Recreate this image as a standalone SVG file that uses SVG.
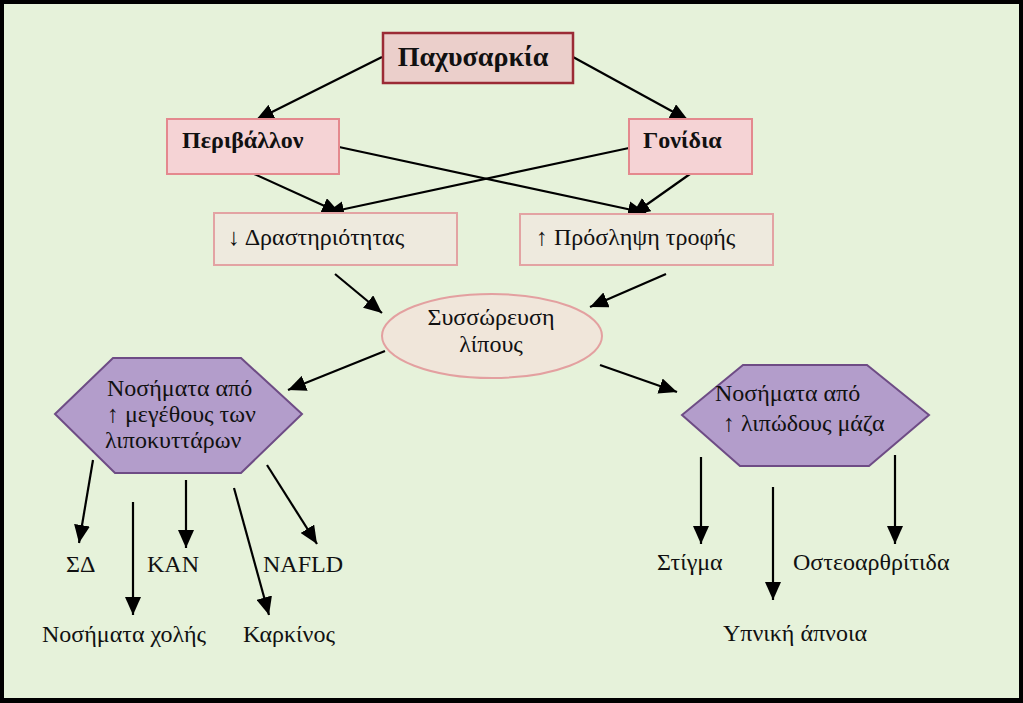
<svg xmlns="http://www.w3.org/2000/svg" width="1023" height="703" viewBox="0 0 1023 703">
<style>
.t{font-family:"Liberation Serif","Times New Roman",serif;fill:#111;font-size:24px}
.b{font-weight:bold}
.c{fill:none;stroke:#000;stroke-width:2.2;marker-end:url(#ah)}
.bx{fill:#EEEADE;stroke:#E3A3A3;stroke-width:2}
.pk{fill:#F5D3D5;stroke:#E4898E;stroke-width:2}
.hx{fill:#B39DCB;stroke:#6E4C85;stroke-width:2}
</style>
<defs>
<marker id="ah" markerUnits="userSpaceOnUse" markerWidth="20" markerHeight="16" viewBox="0 0 20 16" refX="18" refY="8" orient="auto">
<path d="M0,0 L18,8 L0,16 Z" fill="#000"/>
</marker>
</defs>
<rect x="0" y="0" width="1023" height="703" fill="#000"/>
<rect x="4" y="4" width="1015" height="694" fill="#E6F2DA"/>
<g id="connectors">
<line class="c" x1="382" y1="57" x2="256" y2="120"/>
<line class="c" x1="573" y1="57" x2="688" y2="120"/>
<line class="c" x1="339" y1="147" x2="646" y2="213"/>
<line class="c" x1="629" y1="148" x2="326" y2="213"/>
<line class="c" x1="252" y1="173" x2="340" y2="213"/>
<line class="c" x1="690" y1="174" x2="632" y2="215"/>
<line class="c" x1="335" y1="274" x2="382" y2="313"/>
<line class="c" x1="666" y1="274" x2="590" y2="307"/>
<line class="c" x1="385" y1="351" x2="288" y2="390"/>
<line class="c" x1="600" y1="365" x2="677" y2="392"/>
<line class="c" x1="93" y1="460" x2="79" y2="543"/>
<line class="c" x1="133" y1="502" x2="133" y2="615"/>
<line class="c" x1="186" y1="480" x2="186" y2="548"/>
<line class="c" x1="234" y1="488" x2="269" y2="615"/>
<line class="c" x1="267" y1="465" x2="317" y2="544"/>
<line class="c" x1="701" y1="457" x2="701" y2="544"/>
<line class="c" x1="773" y1="487" x2="773" y2="600"/>
<line class="c" x1="895" y1="455" x2="895" y2="544"/>
</g>
<g id="n-paxysarkia">
<rect x="383" y="33" width="190" height="50" fill="#EBCFCB" stroke="#9B2B35" stroke-width="2.5"/>
<text class="t b" x="473" y="66" text-anchor="middle" style="font-size:28px">Παχυσαρκία</text>
</g>
<g id="n-perivallon">
<rect class="pk" x="167" y="119" width="172" height="55"/>
<text class="t b" x="182" y="148">Περιβάλλον</text>
</g>
<g id="n-gonidia">
<rect class="pk" x="629" y="119" width="123" height="55"/>
<text class="t b" x="643" y="148">Γονίδια</text>
</g>
<g id="n-drastiriotitas">
<rect class="bx" x="214" y="213" width="243" height="52"/>
<text class="t" x="228" y="245">↓ Δραστηριότητας</text>
</g>
<g id="n-proslipsi">
<rect class="bx" x="520" y="214" width="253" height="51"/>
<text class="t" x="536" y="245">↑ Πρόσληψη τροφής</text>
</g>
<g id="n-syssoreusi">
<ellipse cx="492" cy="336" rx="110" ry="42" fill="#F0E6DA" stroke="#E3A0A0" stroke-width="2"/>
<text class="t" x="491" y="325" text-anchor="middle">Συσσώρευση</text>
<text class="t" x="491" y="352" text-anchor="middle">λίπους</text>
</g>
<g id="n-hex-left">
<polygon class="hx" points="55,414 113,358 241,358 302,414 241,473 115,473"/>
<text class="t" x="107" y="396">Νοσήματα από</text>
<text class="t" x="107" y="422">↑ μεγέθους των</text>
<text class="t" x="105" y="448">λιποκυττάρων</text>
</g>
<g id="n-hex-right">
<polygon class="hx" points="682,415 743,365 867,365 929,415 869,466 740,466"/>
<text class="t" x="715" y="401">Νοσήματα από</text>
<text class="t" x="723" y="431">↑ λιπώδους μάζα</text>
</g>
<g id="n-sd"><text class="t" x="66" y="572">ΣΔ</text></g>
<g id="n-kan"><text class="t" x="147" y="572">ΚΑΝ</text></g>
<g id="n-nafld"><text class="t" x="263" y="572">NAFLD</text></g>
<g id="n-xolis"><text class="t" x="42" y="642">Νοσήματα χολής</text></g>
<g id="n-karkinos"><text class="t" x="243" y="642">Καρκίνος</text></g>
<g id="n-stigma"><text class="t" x="657" y="570">Στίγμα</text></g>
<g id="n-osteo"><text class="t" x="793" y="570">Οστεοαρθρίτιδα</text></g>
<g id="n-apnoia"><text class="t" x="723" y="641">Υπνική άπνοια</text></g>
</svg>
